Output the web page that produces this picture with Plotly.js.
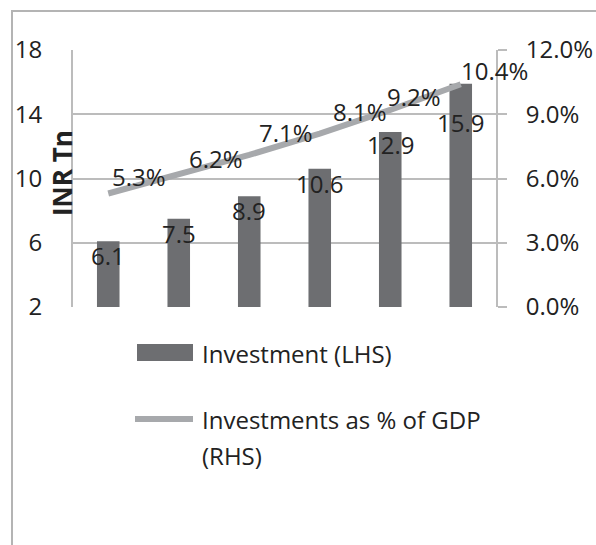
<!DOCTYPE html>
<html>
<head>
<meta charset="utf-8">
<script src="https://cdn.plot.ly/plotly-3.0.1.min.js"></script>
<style>
  html, body { margin: 0; padding: 0; background: #fff; }
  #wrap { position: relative; width: 596px; height: 545px; }
  #chart { position: absolute; left: 0; top: 0; width: 596px; height: 545px; }
  #frame { position: absolute; left: 11px; top: 10px; right: -4px; bottom: -4px;
           border-left: 2px solid #b4b4b4; border-top: 2px solid #b4b4b4; pointer-events: none; }
</style>
</head>
<body>
<div id="wrap">
  <div id="chart"></div>
  <div id="frame"></div>
</div>
<script>
// ---- data ----
const categories = ['Y1', 'Y2', 'Y3', 'Y4', 'Y5', 'Y6'];
const investment = [6.1, 7.5, 8.9, 10.6, 12.9, 15.9];          // INR Tn (LHS)
const investmentPctGDP = [5.3, 6.2, 7.1, 8.1, 9.2, 10.4];      // % of GDP (RHS)
const barLabels = ['6.1', '7.5', '8.9', '10.6', '12.9', '15.9'];
const lineLabels = ['5.3%', '6.2%', '7.1%', '8.1%', '9.2%', '10.4%'];
const seriesNames = ['Investment (LHS)', 'Investments as % of GDP', '(RHS)'];
const yTitle = 'INR Tn';

// ---- styles ----
const BAR = '#6d6e71';
const LINE = '#a7a9ac';
const GRID = '#bcbcbc';
const TXT = '#222222';
const FONT = 'Open Sans, sans-serif';
// label placement offsets (pixels), as placed in the original
const barLabelDy = [14, 15, 14, 15, 13, 39];
const lineLabelDx = [31, 37, 37, 40, 24, 34];
const lineLabelDy = [17, 16, 22, 22, 13, 14];

const W = 596, H = 545;
const M = {l: 73, r: 100, t: 50, b: 238};
const PW = W - M.l - M.r, PH = H - M.t - M.b;
const px = x => (x - M.l) / PW;
const py = y => (H - M.b - y) / PH;

const traces = [
  {
    type: 'bar', x: categories, y: investment, name: seriesNames[0],
    marker: {color: BAR}, yaxis: 'y', hoverinfo: 'skip'
  },
  {
    type: 'scatter', mode: 'lines', x: categories, y: investmentPctGDP, name: seriesNames[1],
    line: {color: LINE, width: 6}, yaxis: 'y2', hoverinfo: 'skip'
  }
];

const annotations = [];
categories.forEach((c, i) => {
  annotations.push({
    x: i, y: investment[i], xref: 'x', yref: 'y', text: barLabels[i],
    showarrow: false, yshift: -barLabelDy[i], xanchor: 'center', yanchor: 'middle',
    font: {family: FONT, size: 24, color: TXT}
  });
  annotations.push({
    x: i, y: investmentPctGDP[i], xref: 'x', yref: 'y2', text: lineLabels[i],
    showarrow: false, xshift: lineLabelDx[i], yshift: lineLabelDy[i], xanchor: 'center', yanchor: 'middle',
    font: {family: FONT, size: 24, color: TXT}
  });
});

// y-axis title (sits between tick labels and axis line)
annotations.push({
  xref: 'paper', yref: 'paper', x: px(62), y: py(173), text: '<b>' + yTitle + '</b>',
  textangle: -90, showarrow: false, xanchor: 'center', yanchor: 'middle',
  font: {family: FONT, size: 26, color: TXT}
});

// legend texts
annotations.push({
  xref: 'paper', yref: 'paper', x: px(200), y: py(353), text: seriesNames[0],
  showarrow: false, xanchor: 'left', yanchor: 'middle',
  font: {family: FONT, size: 24, color: TXT}
});
annotations.push({
  xref: 'paper', yref: 'paper', x: px(200), y: py(419), text: seriesNames[1],
  showarrow: false, xanchor: 'left', yanchor: 'middle',
  font: {family: FONT, size: 24, color: TXT}
});
annotations.push({
  xref: 'paper', yref: 'paper', x: px(200), y: py(455), text: seriesNames[2],
  showarrow: false, xanchor: 'left', yanchor: 'middle',
  font: {family: FONT, size: 24, color: TXT}
});

const shapes = [
  {type: 'rect', xref: 'paper', yref: 'paper', x0: px(137), x1: px(193), y0: py(344), y1: py(361),
   fillcolor: BAR, line: {width: 0}},
  {type: 'line', xref: 'paper', yref: 'paper', x0: px(135), x1: px(193), y0: py(419), y1: py(419),
   line: {color: LINE, width: 6}}
];

const layout = {
  width: W, height: H,
  margin: M,
  paper_bgcolor: 'rgba(0,0,0,0)', plot_bgcolor: 'rgba(0,0,0,0)',
  font: {family: FONT, size: 24, color: TXT},
  showlegend: false,
  bargap: 0.68,
  xaxis: {
    type: 'category', showticklabels: false, showgrid: false, zeroline: false,
    showline: false, ticks: '', range: [-0.5, 5.5]
  },
  yaxis: {
    range: [2, 18], dtick: 4, tick0: 2, showgrid: true, gridcolor: GRID, gridwidth: 2,
    zeroline: false, showline: true, linecolor: GRID, linewidth: 2, ticks: '',
    ticklabelstandoff: 24, tickfont: {family: FONT, size: 24, color: TXT}
  },
  yaxis2: {
    overlaying: 'y', side: 'right', range: [0, 12], dtick: 3, tick0: 0,
    tickformat: '.1f', ticksuffix: '%', showgrid: false, zeroline: false,
    showline: true, linecolor: GRID, linewidth: 2,
    ticks: 'outside', ticklen: 9, tickwidth: 2, tickcolor: GRID,
    ticklabelstandoff: 14, tickfont: {family: FONT, size: 24, color: TXT}
  },
  annotations: annotations,
  shapes: shapes
};

Plotly.newPlot('chart', traces, layout, {staticPlot: true, displayModeBar: false});
</script>
</body>
</html>
